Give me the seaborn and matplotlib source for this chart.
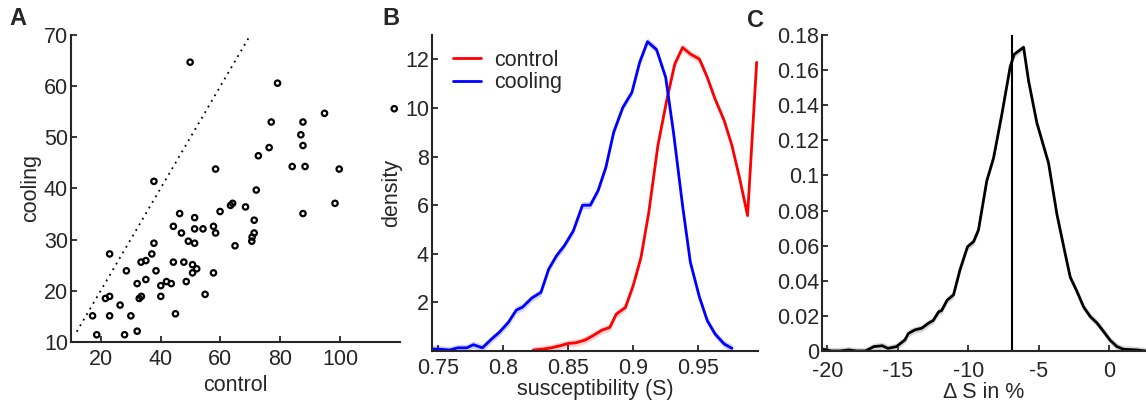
import numpy as np
import pandas as pd
import matplotlib
matplotlib.use("Agg")
import matplotlib.pyplot as plt
import seaborn as sns

# --- Panel A: per-cell values, control vs cooling ---
control_vals = [49.9, 79.1, 94.8, 77.0, 87.6, 86.9, 87.6, 76.3, 72.7, 84.0,
                88.3, 99.7, 58.4, 37.8, 72.0, 98.3, 64.1, 63.4, 68.4, 59.9,
                87.6, 46.4, 51.4, 71.3, 44.3, 57.7, 51.4, 54.2, 47.0, 58.4,
                71.3, 70.6, 70.5, 49.3, 51.4, 37.8, 64.9, 23.0, 37.1, 33.5,
                35.1, 44.3, 47.8, 50.7, 52.1, 50.7, 57.7, 28.6, 38.5, 35.1,
                32.2, 42.0, 43.6, 40.1, 48.6, 54.9, 21.6, 23.0, 32.9, 33.6,
                40.1, 26.5, 17.3, 23.0, 30.1, 45.0, 18.7, 28.0, 32.2, 118.1]
cooling_vals = [64.7, 60.6, 54.7, 53.0, 53.0, 50.5, 48.4, 48.0, 46.4, 44.3,
                44.3, 43.8, 43.8, 41.4, 39.7, 37.1, 37.1, 36.7, 36.4, 35.5,
                35.1, 35.1, 34.3, 33.8, 32.6, 32.6, 32.1, 32.1, 31.3, 31.3,
                31.3, 30.5, 29.7, 29.7, 29.3, 29.3, 28.8, 27.2, 27.2, 25.6,
                25.9, 25.6, 25.6, 25.1, 24.3, 23.5, 23.5, 23.9, 23.9, 22.2,
                21.4, 21.8, 21.4, 21.0, 21.8, 19.3, 18.5, 18.9, 18.5, 18.9,
                18.9, 17.2, 15.1, 15.1, 15.1, 15.5, 11.4, 11.4, 12.1, 55.6]
identity_line = [12, 70]

# --- Panel B: susceptibility densities ---
cool_x = [0.745, 0.750, 0.759, 0.765, 0.772, 0.777, 0.784, 0.791, 0.797, 0.804,
          0.810, 0.815, 0.822, 0.829, 0.835, 0.841, 0.847, 0.854, 0.861, 0.867,
          0.873, 0.879, 0.885, 0.892, 0.899, 0.905, 0.911, 0.918, 0.925, 0.931,
          0.938, 0.944, 0.951, 0.957, 0.963, 0.970, 0.976]
cool_y = [0.08, 0.08, 0.04, 0.13, 0.13, 0.26, 0.13, 0.49, 0.77, 1.18,
          1.68, 1.81, 2.18, 2.41, 3.37, 3.92, 4.33, 4.95, 6.00, 6.00,
          6.60, 7.56, 9.00, 10.02, 10.64, 11.88, 12.73, 12.40, 11.26, 9.00,
          5.98, 3.65, 2.21, 1.25, 0.70, 0.29, 0.11]
ctrl_x = [0.823, 0.831, 0.837, 0.844, 0.850, 0.856, 0.863, 0.869, 0.876, 0.882,
          0.887, 0.894, 0.900, 0.906, 0.912, 0.919, 0.926, 0.932, 0.938, 0.944,
          0.951, 0.957, 0.963, 0.970, 0.976, 0.982, 0.988, 0.995]
ctrl_y = [0.04, 0.08, 0.13, 0.22, 0.31, 0.34, 0.45, 0.63, 0.86, 0.97,
          1.52, 1.79, 2.69, 3.85, 5.70, 8.45, 10.37, 11.81, 12.49, 12.22,
          12.01, 11.26, 10.37, 9.48, 8.45, 7.08, 5.57, 11.88]
band_b = 0.15

# --- Panel C: distribution of change in S ---
ds_x = [-20.3, -19.7, -19.1, -18.5, -17.9, -17.3, -16.7, -16.1, -15.7, -15.1,
        -14.5, -14.25, -13.8, -13.3, -12.8, -12.5, -12.1, -11.9, -11.5, -11.05,
        -10.6, -10.06, -9.63, -9.28, -8.69, -8.21, -7.62, -7.03, -6.75, -6.08,
        -5.73, -5.14, -4.31, -3.72, -3.12, -2.77, -2.30, -1.82, -1.35, -0.88,
        -0.40, 0.07, 0.54, 1.0, 1.96, 2.6]
ds_y = [0.001, 0.0, 0.0, 0.0006, 0.0, 0.0, 0.0025, 0.003, 0.0015, 0.0025,
        0.0063, 0.010, 0.012, 0.013, 0.016, 0.0173, 0.0224, 0.023, 0.029, 0.032,
        0.046, 0.0594, 0.0623, 0.069, 0.097, 0.110, 0.135, 0.162, 0.169, 0.173,
        0.154, 0.130, 0.107, 0.078, 0.055, 0.042, 0.034, 0.025, 0.0196, 0.016,
        0.011, 0.006, 0.0025, 0.001, 0.0006, 0.0]
ds_median = -6.9
band_c = 0.002

sns.set_theme(style="ticks")
plt.rcParams['font.family'] = ['Liberation Sans', 'DejaVu Sans']
plt.rcParams['axes.unicode_minus'] = False
plt.rcParams['axes.edgecolor'] = '#262626'
plt.rcParams['axes.linewidth'] = 1.5
plt.rcParams['xtick.color'] = '#262626'
plt.rcParams['ytick.color'] = '#262626'
plt.rcParams['xtick.direction'] = 'in'
plt.rcParams['ytick.direction'] = 'in'

fig = plt.figure(figsize=(11.46, 4.08), dpi=100)
axA = fig.add_axes([0.0617, 0.162, 0.2873, 0.752])
axB = fig.add_axes([0.3767, 0.1397, 0.2847, 0.7743])
axC = fig.add_axes([0.717, 0.1397, 0.283, 0.7743])

fs = 15.5
lbl_color = '#262626'

# Panel A
dfA = pd.DataFrame({'control': control_vals, 'cooling': cooling_vals})
axA.plot(identity_line, identity_line, color='black', lw=1.3, ls=(0, (1, 2.6)))
sns.scatterplot(data=dfA, x='control', y='cooling', ax=axA, marker='o',
                facecolor='none', edgecolor='black', linewidth=1.6, s=15,
                clip_on=False, zorder=3)
axA.set_xlim(10, 120)
axA.set_ylim(10, 70)
axA.set_xticks([20, 40, 60, 80, 100])
axA.set_yticks([10, 20, 30, 40, 50, 60, 70])

# Panel B
dfB = pd.concat([pd.DataFrame({'S': ctrl_x, 'density': ctrl_y, 'cond': 'control'}),
                 pd.DataFrame({'S': cool_x, 'density': cool_y, 'cond': 'cooling'})])
palette = {'control': '#ff0000', 'cooling': '#0000ff'}
for cond, c in palette.items():
    sub = dfB[dfB['cond'] == cond]
    axB.fill_between(sub['S'], sub['density'] - band_b, sub['density'] + band_b,
                     color=c, alpha=0.18, lw=0)
sns.lineplot(data=dfB, x='S', y='density', hue='cond', palette=palette,
             ax=axB, lw=2, sort=False, estimator=None)
axB.set_xlim(0.745, 0.996)
axB.set_ylim(0, 13)
axB.set_xticks([0.75, 0.8, 0.85, 0.9, 0.95])
axB.set_xticklabels(['0.75', '0.8', '0.85', '0.9', '0.95'])
axB.set_yticks([2, 4, 6, 8, 10, 12])
leg = axB.legend(loc='upper left', frameon=False, fontsize=fs, handlelength=1.3,
                 handletextpad=0.6, borderaxespad=0.0, labelspacing=0.05,
                 bbox_to_anchor=(0.04, 0.98))
axB.set_xlabel('susceptibility (S)', fontsize=fs, color=lbl_color, labelpad=0)
axB.set_ylabel('density', fontsize=fs, color=lbl_color, labelpad=2)

# Panel C
axC.fill_between(ds_x, np.array(ds_y) - band_c, np.array(ds_y) + band_c,
                 color='gray', alpha=0.3, lw=0)
sns.lineplot(x=ds_x, y=ds_y, ax=axC, color='black', lw=2, estimator=None)
axC.axvline(ds_median, color='black', lw=1.5)
axC.set_xlim(-20.4, 2.6)
axC.set_ylim(0, 0.18)
axC.set_xticks([-20, -15, -10, -5, 0])
axC.set_yticks([0, 0.02, 0.04, 0.06, 0.08, 0.1, 0.12, 0.14, 0.16, 0.18])
axC.set_yticklabels(['0', '0.02', '0.04', '0.06', '0.08', '0.1', '0.12',
                     '0.14', '0.16', '0.18'])
axC.set_xlabel('\u0394 S in %', fontsize=fs, color=lbl_color, labelpad=0)

axA.set_xlabel('control', fontsize=fs, color=lbl_color, labelpad=4)
axA.set_ylabel('cooling', fontsize=fs, color=lbl_color, labelpad=2)

for ax in (axA, axB, axC):
    sns.despine(ax=ax)
    ax.tick_params(labelsize=fs, length=4, width=1.3, labelcolor=lbl_color)
    ax.tick_params(axis='x', pad=5)
    ax.tick_params(axis='y', pad=2)
axC.tick_params(axis='x', pad=7)

fig.text(0.008, 0.955, 'A', fontsize=17, fontweight='bold', va='center')
fig.text(0.334, 0.955, 'B', fontsize=17, fontweight='bold', va='center')
fig.text(0.652, 0.95, 'C', fontsize=17, fontweight='bold', va='center')

fig.savefig('out.png', dpi=100)
